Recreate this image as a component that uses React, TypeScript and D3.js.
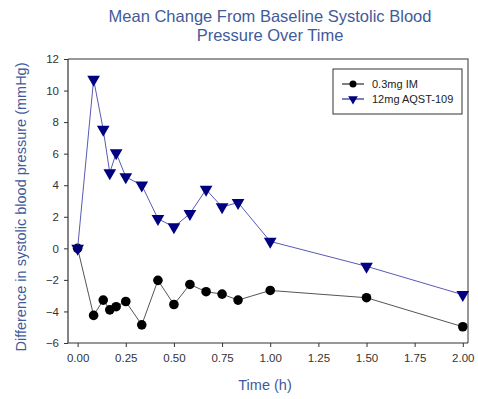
import { useRef, useEffect } from "react";
import * as d3 from "d3";

const times = [0, 0.083, 0.133, 0.167, 0.2, 0.25, 0.333, 0.417, 0.5, 0.583, 0.667, 0.75, 0.833, 1.0, 1.5, 2.0];
const imValues = [0, -4.25, -3.28, -3.9, -3.7, -3.37, -4.85, -2.03, -3.56, -2.29, -2.75, -2.9, -3.28, -2.67, -3.13, -4.97];
const aqstValues = [0, 10.7, 7.53, 4.78, 6.05, 4.53, 4.0, 1.88, 1.35, 2.2, 3.73, 2.62, 2.9, 0.44, -1.14, -2.94];
const xTicks = [0, 0.25, 0.5, 0.75, 1, 1.25, 1.5, 1.75, 2];
const yTicks = [-6, -4, -2, 0, 2, 4, 6, 8, 10, 12];
const seriesNames = ["0.3mg IM", "12mg AQST-109"];

const W = 478;
const H = 399;
const FONT = "'Liberation Sans', Arial, sans-serif";
const TITLE_COLOR = "#3f5b9a";

export default function App() {
  const ref = useRef<SVGSVGElement>(null);

  useEffect(() => {
    if (!ref.current) return;
    const svg = d3.select(ref.current);
    svg.selectAll("*").remove();

    const left = 68, top = 59, right = 468, bottom = 343;
    const x = d3.scaleLinear().domain([-0.05, 2.027]).range([left, right]);
    const y = d3.scaleLinear().domain([-6, 12]).range([bottom, top]);

    svg.append("rect").attr("width", W).attr("height", H).attr("fill", "#fff");

    // title
    const title = svg.append("text")
      .attr("text-anchor", "middle")
      .style("font-family", FONT)
      .style("font-size", "16.5px")
      .style("fill", TITLE_COLOR);
    title.append("tspan").attr("x", 270).attr("y", 22).text("Mean Change From Baseline Systolic Blood");
    title.append("tspan").attr("x", 270).attr("y", 41).text("Pressure Over Time");

    // frame (top/right)
    svg.append("path")
      .attr("d", `M${left},${top}H${right}V${bottom}`)
      .attr("fill", "none")
      .attr("stroke", "#777")
      .attr("stroke-width", 1.5);

    // axes
    const xAxis = svg.append("g")
      .attr("transform", `translate(0,${bottom})`)
      .call(d3.axisBottom(x).tickValues(xTicks).tickFormat(d3.format(".2f")).tickSize(4).tickPadding(7));
    const yAxis = svg.append("g")
      .attr("transform", `translate(${left},0)`)
      .call(d3.axisLeft(y).tickValues(yTicks).tickFormat(d3.format("d")).tickSize(4).tickPadding(5));
    [xAxis, yAxis].forEach((a) => {
      a.select(".domain").attr("stroke", "#333").attr("stroke-width", 1.2);
      a.selectAll(".tick line").attr("stroke", "#333");
      a.selectAll(".tick text")
        .style("font-family", FONT)
        .style("font-size", "11.5px")
        .style("fill", "#333");
    });
    xAxis.select(".domain").attr("d", `M${left},0H${right}`);
    yAxis.select(".domain").attr("d", `M0,${bottom}V${top}`);

    // axis labels
    svg.append("text")
      .attr("x", 265).attr("y", 390)
      .attr("text-anchor", "middle")
      .style("font-family", FONT).style("font-size", "14.5px")
      .style("fill", TITLE_COLOR)
      .text("Time (h)");
    svg.append("text")
      .attr("transform", `translate(26,207) rotate(-90)`)
      .attr("text-anchor", "middle")
      .style("font-family", FONT).style("font-size", "14.5px")
      .style("fill", TITLE_COLOR)
      .text("Difference in systolic blood pressure (mmHg)");

    const line = d3.line<number>().x((_, i) => x(times[i])).y((d) => y(d));
    const tri = d3.symbol().type(d3.symbolTriangle).size(70);

    // IM series
    svg.append("path").datum(imValues).attr("d", line)
      .attr("fill", "none").attr("stroke", "#555").attr("stroke-width", 1);
    svg.selectAll(".im").data(imValues).join("circle")
      .attr("cx", (_, i) => x(times[i])).attr("cy", (d) => y(d))
      .attr("r", 4.8).attr("fill", "#000");

    // AQST series
    svg.append("path").datum(aqstValues).attr("d", line)
      .attr("fill", "none").attr("stroke", "#5a5ab4").attr("stroke-width", 1);
    svg.selectAll(".aq").data(aqstValues).join("path")
      .attr("d", tri)
      .attr("transform", (d, i) => `translate(${x(times[i])},${y(d)}) rotate(180)`)
      .attr("fill", "#000080");

    // legend
    const lg = svg.append("g");
    lg.append("rect").attr("x", 333).attr("y", 69).attr("width", 129).attr("height", 45)
      .attr("fill", "#fff").attr("stroke", "#333").attr("stroke-width", 1);
    seriesNames.forEach((name, i) => {
      const yy = 84 + i * 15;
      lg.append("line").attr("x1", 342).attr("x2", 364).attr("y1", yy).attr("y2", yy)
        .attr("stroke", i === 0 ? "#000" : "#000080").attr("stroke-width", 1);
      if (i === 0) {
        lg.append("circle").attr("cx", 353).attr("cy", yy).attr("r", 3.5).attr("fill", "#000");
      } else {
        lg.append("path").attr("d", d3.symbol().type(d3.symbolTriangle).size(40)())
          .attr("transform", `translate(353,${yy}) rotate(180)`).attr("fill", "#000080");
      }
      lg.append("text").attr("x", 372).attr("y", yy + 4)
        .style("font-family", FONT).style("font-size", "11px").style("fill", "#222")
        .text(name);
    });
  }, []);

  return <svg ref={ref} width={W} height={H} style={{ position: "absolute", left: 0, top: 0 }} />;
}
